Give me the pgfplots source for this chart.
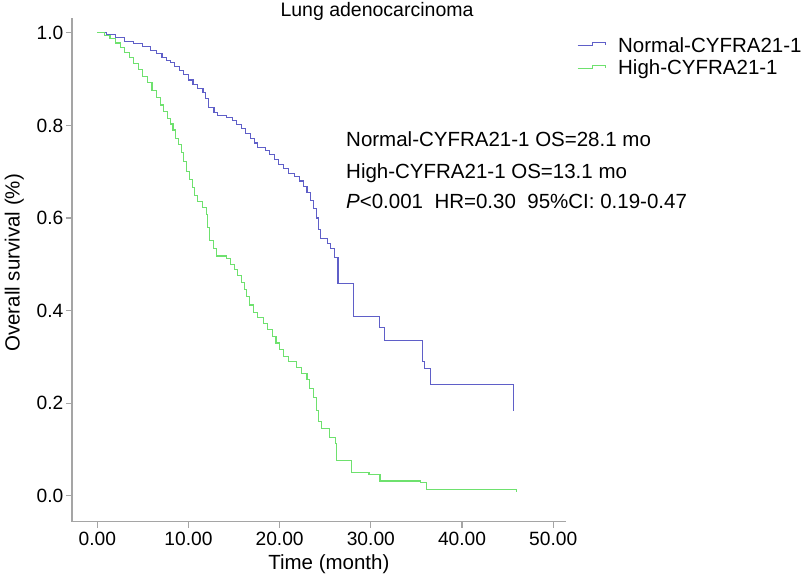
\documentclass[border=0pt]{standalone}
\usepackage{pgfplots}
\usepackage{pgfplotstable}
\pgfplotsset{compat=1.18}
\usepackage{fontspec}
\setmainfont{Liberation Sans}

\definecolor{kmblue}{RGB}{95,95,200}
\definecolor{kmgreen}{RGB}{110,225,110}
\definecolor{axgray}{RGB}{165,165,165}

% Kaplan-Meier estimates: time (month), survival
\pgfplotstableread{
t    s
0.0  1.000
1.0  0.997
2.0  0.990
3.0  0.982
4.0  0.976
5.0  0.970
5.8  0.962
6.5  0.955
7.1  0.947
7.6  0.940
8.0  0.935
8.5  0.927
9.0  0.919
9.5  0.910
10.0 0.898
10.5 0.889
11.0 0.880
11.6 0.872
11.9 0.858
12.2 0.838
12.8 0.828
13.2 0.821
14.2 0.817
14.8 0.810
15.3 0.802
15.8 0.793
16.3 0.783
16.8 0.772
17.2 0.762
17.6 0.752
18.4 0.745
18.9 0.737
19.4 0.727
19.9 0.716
20.4 0.706
21.0 0.697
21.6 0.689
22.2 0.680
22.6 0.668
23.0 0.655
23.4 0.638
23.7 0.620
24.0 0.600
24.3 0.575
24.5 0.555
25.2 0.545
25.6 0.535
26.0 0.515
26.4 0.458
28.1 0.387
30.9 0.364
31.5 0.335
35.7 0.290
35.9 0.274
36.5 0.240
45.6 0.184
}\normaltab

\pgfplotstableread{
t    s
0.0  1.000
0.8  0.995
1.4  0.988
2.0  0.978
2.5  0.968
3.0  0.958
3.5  0.946
4.0  0.933
4.5  0.920
5.0  0.906
5.5  0.892
6.0  0.876
6.5  0.860
6.9  0.844
7.3  0.830
7.7  0.815
8.0  0.803
8.3  0.790
8.6  0.772
8.9  0.758
9.2  0.742
9.5  0.722
9.8  0.700
10.1 0.683
10.4 0.665
10.7 0.648
11.0 0.635
11.5 0.622
12.0 0.608
12.1 0.580
12.3 0.552
12.7 0.535
13.1 0.518
14.2 0.512
14.6 0.500
15.0 0.488
15.4 0.476
15.8 0.460
16.1 0.445
16.4 0.430
16.7 0.412
17.1 0.395
17.6 0.385
18.2 0.372
18.7 0.360
19.2 0.345
19.6 0.330
20.0 0.315
20.4 0.300
21.0 0.290
21.8 0.278
22.4 0.265
23.0 0.252
23.3 0.232
23.7 0.212
24.0 0.185
24.3 0.160
24.6 0.146
25.5 0.126
26.1 0.112
26.2 0.076
27.9 0.050
29.8 0.045
31.0 0.032
35.4 0.029
36.1 0.0145
46.0 0.009
}\hightab

\begin{document}
\begin{tikzpicture}
\useasboundingbox (0,0) rectangle (803bp,580bp);
\begin{axis}[
    at={(72bp,58.3bp)}, anchor=south west,
    scale only axis, width=494bp, height=503.7bp,
    xmin=-2.77, xmax=51.4, ymin=-0.056, ymax=1.032,
    axis lines=left,
    axis line style={draw=axgray, line width=1.2bp, -},
    tick style={draw=axgray, line width=1.2bp},
    tick align=outside, major tick length=6bp,
    xtick={0,10,20,30,40,50},
    ytick={0,0.2,0.4,0.6,0.8,1},
    /pgf/number format/assume math mode=true,
    xticklabel style={font=\fontsize{19.2bp}{22bp}\selectfont,
        /pgf/number format/fixed, /pgf/number format/fixed zerofill,
        /pgf/number format/precision=2, yshift=-1bp},
    yticklabel style={font=\fontsize{19.2bp}{22bp}\selectfont,
        /pgf/number format/fixed, /pgf/number format/fixed zerofill,
        /pgf/number format/precision=1, inner sep=2.5bp},
    xlabel={Time (month)},
    ylabel={Overall survival (\%)},
    label style={font=\fontsize{20.5bp}{23bp}\selectfont},
    xlabel style={at={(axis description cs:0.52,-0.084)}, anchor=center},
    ylabel style={at={(axis description cs:-0.117,0.514)}, anchor=center, rotate=0},
    legend style={at={(axis description cs:1.022,0.966)}, anchor=north west,
        draw=none, fill=none, font=\fontsize{20.5bp}{23bp}\selectfont,
        row sep=2.5bp, inner sep=0pt},
    legend cell align=left,
    legend image code/.code={\draw[#1] (0bp,0bp) -- (15bp,0bp) -- (15bp,3bp)
        -- (28bp,3bp) -- (28bp,0bp); \path (38bp,0bp);},
]
\addplot[kmblue, line width=1.1bp, const plot, no marks] table {\normaltab};
\addlegendentry{Normal-CYFRA21-1}
\addplot[kmgreen, line width=1.1bp, const plot, no marks] table {\hightab};
\addlegendentry{High-CYFRA21-1}
\end{axis}
\node[anchor=base, inner sep=0pt, font=\fontsize{19.5bp}{22bp}\selectfont]
    at (377bp,563bp) {Lung adenocarcinoma};
\begin{scope}[every node/.style={anchor=base west, inner sep=0pt,
    font=\fontsize{20.5bp}{23bp}\selectfont}]
\node at (346bp,433.3bp) {Normal-CYFRA21-1 OS=28.1 mo};
\node at (346bp,401.7bp) {High-CYFRA21-1 OS=13.1 mo};
\node at (346bp,371.7bp) {\textit{P}<0.001\ \ HR=0.30\ \ 95\%CI: 0.19-0.47};
\end{scope}
\end{tikzpicture}
\end{document}
